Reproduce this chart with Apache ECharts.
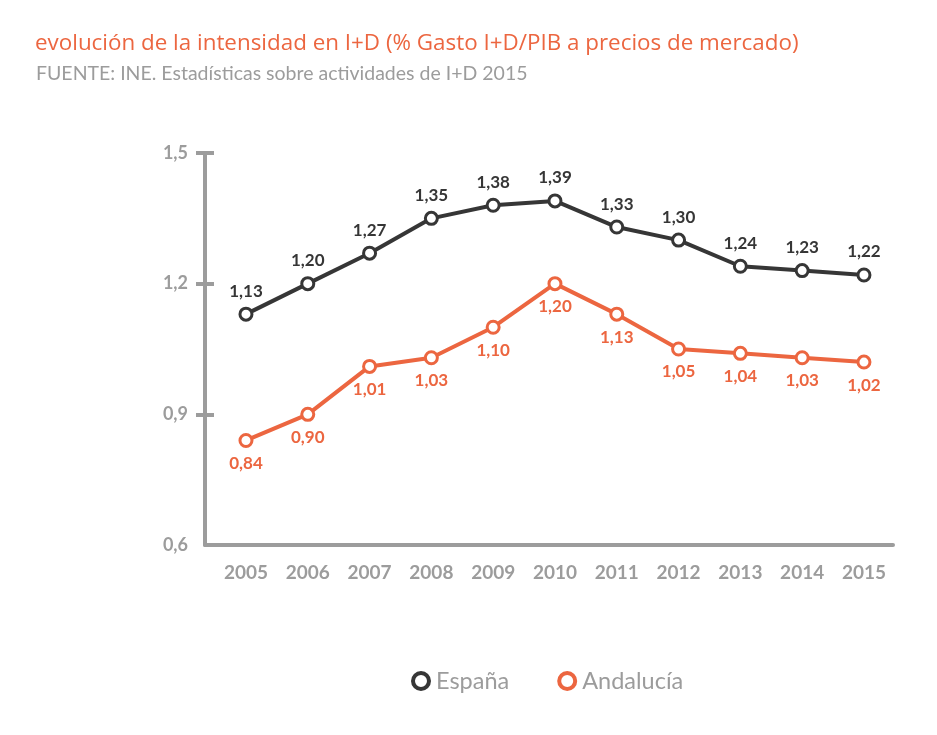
<!DOCTYPE html>
<html>
<head>
    <meta charset="utf-8"/>
    <title>Intensidad I+D</title>
    <script src="https://cdn.jsdelivr.net/npm/echarts@6.0.0/dist/echarts.min.js"></script>
</head>
<body style="margin:0;background:#fff">
<div id="main" style="width:937px;height:735px;"></div>
<script type="text/javascript">
    // data
    var years = [2005, 2006, 2007, 2008, 2009, 2010, 2011, 2012, 2013, 2014, 2015];
    var espana = [1.13, 1.20, 1.27, 1.35, 1.38, 1.39, 1.33, 1.30, 1.24, 1.23, 1.22];
    var andalucia = [0.84, 0.90, 1.01, 1.03, 1.10, 1.20, 1.13, 1.05, 1.04, 1.03, 1.02];
    var yTicks = [0.6, 0.9, 1.2, 1.5];

    var dark = '#363636';
    var orange = '#ec6640';
    var grey = '#9c9c9c';
    var font = 'Lato, "DejaVu Sans", sans-serif';

    function pairs(vals) {
        return years.map(function (y, i) { return [y, vals[i]]; });
    }
    function comma(v) {
        return v.toFixed(2).replace('.', ',');
    }

    var myChart = echarts.init(document.getElementById('main'));

    var option = {
        animation: false,
        backgroundColor: '#fff',
        title: [{
            text: 'evolución de la intensidad en I+D (% Gasto I+D/PIB a precios de mercado)',
            left: 30, top: 28,
            textStyle: { color: orange, fontSize: 22.4, fontWeight: 'normal', fontFamily: '"Open Sans", sans-serif' }
        }, {
            text: 'FUENTE: INE. Estadísticas sobre actividades de I+D 2015',
            left: 31, top: 59,
            textStyle: { color: grey, fontSize: 19.5, fontWeight: 'normal', fontFamily: font }
        }],
        legend: {
            bottom: 37,
            left: 406,
            itemGap: 48,
            itemWidth: 16,
            itemHeight: 16,
            icon: 'circle',
            itemStyle: { borderWidth: 4 },
            textStyle: { color: grey, fontSize: 23.5, fontFamily: font, padding: [0, 0, 0, 2] },
            data: ['España', 'Andalucía']
        },
        grid: { left: 205, right: 44, top: 153, bottom: 190 },
        xAxis: {
            type: 'value',
            min: 2004.337,
            max: 2015.47,
            splitLine: { show: false },
            axisLine: { show: true, lineStyle: { color: grey, width: 4 } },
            axisTick: { show: false },
            axisLabel: {
                customValues: years,
                margin: 18,
                color: grey,
                fontSize: 19,
                fontWeight: 'bold',
                fontFamily: font,
                formatter: function (v) { return String(v); }
            }
        },
        yAxis: [{
            type: 'value',
            min: 0.6, max: 1.5, interval: 0.3,
            splitLine: { show: false },
            axisLine: { show: true, lineStyle: { color: grey, width: 4 } },
            axisTick: { show: true, length: 9, customValues: yTicks.slice(1), lineStyle: { color: grey, width: 4 } },
            axisLabel: {
                customValues: yTicks,
                margin: 17,
                color: grey,
                fontSize: 18,
                fontWeight: 'bold',
                fontFamily: font,
                formatter: function (v) { return v.toFixed(1).replace('.', ','); }
            }
        }, {
            type: 'value',
            position: 'left',
            min: 0.6, max: 1.5, interval: 0.3,
            splitLine: { show: false },
            axisLine: { show: false },
            axisLabel: { show: false },
            axisTick: { show: true, inside: true, length: 9, customValues: yTicks.slice(1), lineStyle: { color: grey, width: 4 } }
        }],
        series: [{
            name: 'España',
            type: 'line',
            data: pairs(espana),
            symbol: 'circle',
            symbolSize: 12,
            lineStyle: { color: dark, width: 4 },
            itemStyle: { color: '#fff', borderColor: dark, borderWidth: 3 },
            label: {
                show: true, position: 'top', distance: 7,
                color: dark, fontSize: 17, fontWeight: 'bold', fontFamily: font,
                formatter: function (p) { return comma(p.value[1]); }
            }
        }, {
            name: 'Andalucía',
            type: 'line',
            data: pairs(andalucia),
            symbol: 'circle',
            symbolSize: 12,
            lineStyle: { color: orange, width: 4 },
            itemStyle: { color: '#fff', borderColor: orange, borderWidth: 3 },
            label: {
                show: true, position: 'bottom', distance: 7,
                color: orange, fontSize: 17, fontWeight: 'bold', fontFamily: font,
                formatter: function (p) { return comma(p.value[1]); }
            }
        }]
    };

    myChart.setOption(option);
</script>
</body>
</html>
